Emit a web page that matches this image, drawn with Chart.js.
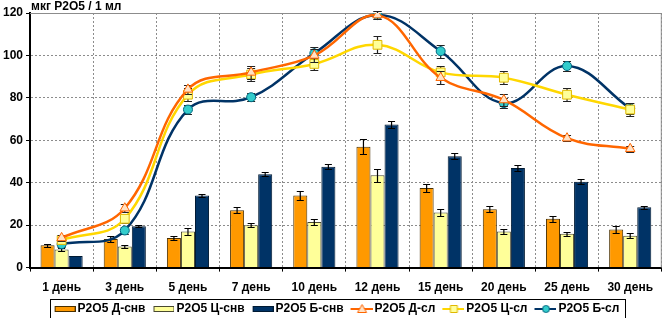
<!DOCTYPE html>
<html>
<head>
<meta charset="utf-8">
<script src="https://cdn.jsdelivr.net/npm/chart.js@4.4.1/dist/chart.umd.min.js"></script>
<style>
  html, body { margin: 0; padding: 0; background: #fff; }
</style>
</head>
<body>
<canvas id="chart" width="669" height="318"></canvas>
<script>
const days = ['1 день', '3 день', '5 день', '7 день', '10 день', '12 день', '15 день', '20 день', '25 день', '30 день'];

// bars (снв)
const snvD = [10.5, 13.5, 14, 27, 34, 57, 37.5, 27.5, 23, 18];
const snvDErr = [0.7, 1.5, 1, 1.5, 2, 3.5, 2, 1.5, 1.5, 1.5];
const snvC = [8.5, 10, 17, 20, 21.5, 43.5, 26, 17, 16, 15];
const snvCErr = [0.7, 0.7, 1.5, 1, 1.5, 3, 1.5, 1, 1, 1.2];
const snvB = [5.5, 19.5, 34, 44, 47.5, 67.5, 52.5, 47, 40.5, 28.5];
const snvBErr = [0, 0.5, 0.7, 1, 1.2, 1.5, 1.3, 1.3, 1.3, 0.7];

// lines (сл)
const slD = [14, 28, 84, 92, 100, 119, 89.5, 79, 61, 56];
const slDErr = [1.5, 2, 2, 3, 3, 2, 3, 3, 1.5, 1.5];
const slC = [13, 23, 81.5, 91, 96, 105, 92, 89.5, 81.5, 74.5];
const slCErr = [1.5, 2, 3, 3, 3, 4, 3, 3, 3, 3];
const slB = [11, 17.5, 74.5, 80.3, 101, 119, 102, 77.5, 95, 75];
const slBErr = [1.5, 1.5, 2, 2, 3, 2, 3, 2.5, 2.5, 2.5];

const yTitle = 'мкг P2O5 / 1 мл';
const FONT = 'Liberation Sans, Arial, sans-serif';
const ICON_BOX = 23;

function drawErr(chart, i, cap, color) {
  const ds = chart.data.datasets[i];
  const meta = chart.getDatasetMeta(i);
  const y = chart.scales.y;
  const ctx = chart.ctx;
  ctx.save();
  ctx.strokeStyle = color;
  ctx.lineWidth = 1.2;
  meta.data.forEach((el, j) => {
    const e = ds.err[j];
    if (!e) return;
    const top = Math.round(y.getPixelForValue(ds.data[j] + e)) + 0.5;
    const bot = Math.round(y.getPixelForValue(ds.data[j] - e)) + 0.5;
    ctx.beginPath();
    ctx.moveTo(el.x, top); ctx.lineTo(el.x, bot);
    ctx.moveTo(el.x - cap, top); ctx.lineTo(el.x + cap, top);
    ctx.moveTo(el.x - cap, bot); ctx.lineTo(el.x + cap, bot);
    ctx.stroke();
  });
  ctx.restore();
}

const errorBars = {
  id: 'errorBars',
  beforeDatasetDraw(chart, args) {
    if (args.meta.type === 'line') drawErr(chart, args.index, 4, '#222');
  },
  afterDatasetDraw(chart, args) {
    if (args.meta.type === 'bar') drawErr(chart, args.index, 3.5, '#000');
  }
};

const extras = {
  id: 'extras',
  afterLayout(chart) {
    // pull the legend a little closer to the axis labels
    chart.legend.top -= 3;
    chart.legend.bottom -= 3;
  },
  beforeDatasetsDraw(chart) {
    const {ctx, chartArea: a} = chart;
    ctx.save();
    ctx.strokeStyle = '#8c8c8c';
    ctx.lineWidth = 1;
    ctx.beginPath();
    ctx.moveTo(a.left, a.top + 0.5); ctx.lineTo(a.right - 0.5, a.top + 0.5);
    ctx.lineTo(a.right - 0.5, a.bottom);
    ctx.stroke();
    ctx.restore();
  },
  afterDraw(chart) {
    const {ctx, chartArea: a} = chart;
    ctx.save();
    ctx.fillStyle = '#000';
    ctx.font = 'bold 12px ' + FONT;
    ctx.textBaseline = 'middle';
    ctx.fillText(yTitle, a.left + 1, a.top - 6);
    // legend frame
    const hb = chart.legend.legendHitBoxes;
    if (hb && hb.length) {
      const first = hb[0], last = hb[hb.length - 1];
      const l = first.left + ICON_BOX - 17 - 5;
      const r = last.left + last.width + 5;
      const t = first.top - 4;
      const b = first.top + first.height + 4;
      ctx.strokeStyle = '#000';
      ctx.lineWidth = 1;
      ctx.strokeRect(Math.round(l) + 0.5, Math.round(t) + 0.5, Math.round(r - l), Math.round(b - t));
    }
    ctx.restore();
  }
};

function legendIcon(ds) {
  const c = document.createElement('canvas');
  c.width = ICON_BOX + 8; c.height = 12;
  const g = c.getContext('2d');
  const x0 = c.width - 21;
  if (ds.type === 'bar') {
    g.fillStyle = ds.backgroundColor;
    g.fillRect(x0, 3, 21, 6);
    g.strokeStyle = ds.borderColor;
    g.lineWidth = 1;
    g.strokeRect(x0 + 0.5, 3.5, 20, 5);
  } else {
    const cx = x0 + 10.5;
    g.strokeStyle = ds.borderColor;
    g.lineWidth = 2;
    g.beginPath(); g.moveTo(x0 - 1, 6); g.lineTo(c.width, 6); g.stroke();
    g.fillStyle = ds.pointBackgroundColor;
    g.strokeStyle = ds.pointBorderColor;
    g.lineWidth = 1;
    g.beginPath();
    if (ds.pointStyle === 'triangle') {
      g.moveTo(cx, 1.5); g.lineTo(cx + 4.5, 9.5); g.lineTo(cx - 4.5, 9.5); g.closePath();
    } else if (ds.pointStyle === 'rect') {
      g.rect(cx - 3.5, 2.5, 7, 7);
    } else {
      g.arc(cx, 6, 3.5, 0, Math.PI * 2);
    }
    g.fill(); g.stroke();
  }
  return c;
}

new Chart(document.getElementById('chart'), {
  type: 'bar',
  data: {
    labels: days,
    datasets: [
      { type: 'bar', label: 'P2O5 Д-снв', data: snvD, err: snvDErr, backgroundColor: '#FF9900', borderColor: '#4a3000', borderWidth: 1, order: 1 },
      { type: 'bar', label: 'P2O5 Ц-снв', data: snvC, err: snvCErr, backgroundColor: '#FFFF99', borderColor: '#4a4a30', borderWidth: 1, order: 1 },
      { type: 'bar', label: 'P2O5 Б-снв', data: snvB, err: snvBErr, backgroundColor: '#003366', borderColor: '#001a33', borderWidth: 1, order: 1 },
      { type: 'line', label: 'P2O5 Д-сл', data: slD, err: slDErr, borderColor: '#FF6600', borderWidth: 2.5, tension: 0.4,
        pointStyle: 'triangle', pointRadius: 5.5, pointBackgroundColor: '#FFE2C6', pointBorderColor: '#FF6600', pointBorderWidth: 1, order: 0 },
      { type: 'line', label: 'P2O5 Ц-сл', data: slC, err: slCErr, borderColor: '#FFD700', borderWidth: 2.5, tension: 0.4,
        pointStyle: 'rect', pointRadius: 6.2, pointBackgroundColor: '#FFFF99', pointBorderColor: '#E0B800', pointBorderWidth: 1, order: 0 },
      { type: 'line', label: 'P2O5 Б-сл', data: slB, err: slBErr, borderColor: '#003366', borderWidth: 2.5, tension: 0.4,
        pointStyle: 'circle', pointRadius: 4.5, pointBackgroundColor: '#33CCCC', pointBorderColor: '#006680', pointBorderWidth: 1, order: 0 }
    ]
  },
  options: {
    responsive: false,
    animation: false,
    layout: { padding: { top: 13, right: 1, left: 0, bottom: -10 } },
    datasets: { bar: { categoryPercentage: 0.667, barPercentage: 1.0 } },
    scales: {
      x: {
        offset: true,
        grid: { offset: true, color: '#8c8c8c', tickLength: 4, tickColor: '#000', tickWidth: 1 },
        border: { color: '#000', width: 2, dash: [2, 2] },
        ticks: { color: '#000', font: { family: FONT, size: 12, weight: 'bold' }, padding: 9, maxRotation: 0 }
      },
      y: {
        min: 0,
        max: 120,
        grid: { color: '#8c8c8c', tickLength: 4, tickColor: '#000', tickWidth: 1 },
        border: { color: '#000', width: 2, dash: [2, 2] },
        ticks: { stepSize: 20, color: '#000', font: { family: FONT, size: 12, weight: 'bold' }, padding: 3 }
      }
    },
    plugins: {
      tooltip: { enabled: false },
      legend: {
        display: true,
        position: 'bottom',
        labels: {
          usePointStyle: true,
          pointStyleWidth: ICON_BOX,
          padding: 2,
          color: '#000',
          font: { family: FONT, size: 12, weight: 'bold' },
          generateLabels: chart => chart.data.datasets.map((ds, i) => ({
            text: ds.label,
            pointStyle: legendIcon(ds),
            fillStyle: 'transparent',
            strokeStyle: 'transparent',
            lineWidth: 0,
            hidden: false,
            datasetIndex: i,
            fontColor: '#000'
          }))
        }
      }
    }
  },
  plugins: [errorBars, extras]
});
</script>
</body>
</html>
